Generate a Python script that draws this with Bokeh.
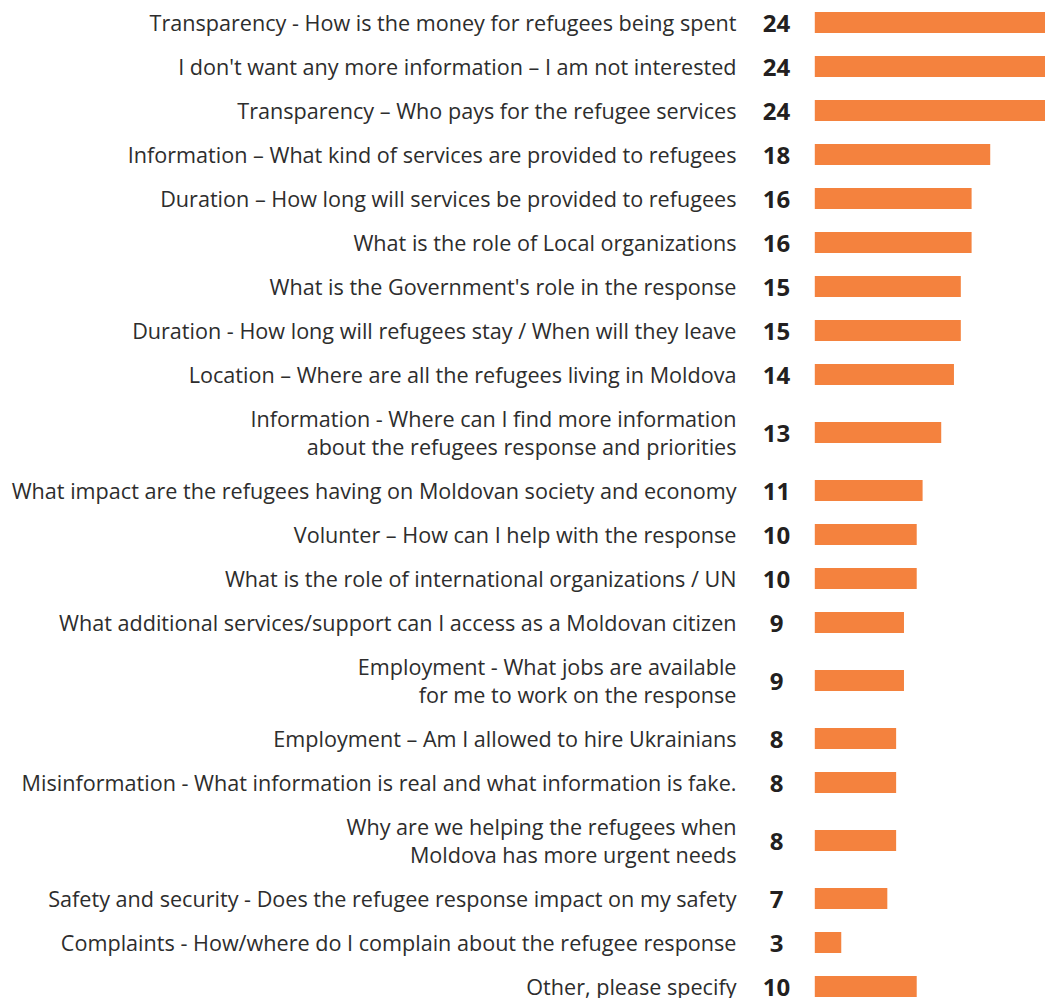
from bokeh.plotting import figure
from bokeh.models import ColumnDataSource, Range1d
from bokeh.core.properties import value
from bokeh.embed import file_html
from bokeh.resources import INLINE

# ---- data ----
questions = [
    "Transparency - How is the money for refugees being spent",
    "I don't want any more information \u2013 I am not interested",
    "Transparency \u2013 Who pays for the refugee services",
    "Information \u2013 What kind of services are provided to refugees",
    "Duration \u2013 How long will services be provided to refugees",
    "What is the role of Local organizations",
    "What is the Government's role in the response",
    "Duration - How long will refugees stay / When will they leave",
    "Location \u2013 Where are all the refugees living in Moldova",
    "Information - Where can I find more information\nabout the refugees response and priorities",
    "What impact are the refugees having on Moldovan society and economy",
    "Volunter \u2013 How can I help with the response",
    "What is the role of international organizations / UN",
    "What additional services/support can I access as a Moldovan citizen",
    "Employment - What jobs are available\nfor me to work on the response",
    "Employment \u2013 Am I allowed to hire Ukrainians",
    "Misinformation - What information is real and what information is fake.",
    "Why are we helping the refugees when\nMoldova has more urgent needs",
    "Safety and security - Does the refugee response impact on my safety",
    "Complaints - How/where do I complain about the refugee response",
    "Other, please specify",
]
shown_values = [24, 24, 24, 18, 16, 16, 15, 15, 14, 13, 11, 10, 10, 9, 9, 8, 8, 8, 7, 3, 10]
bar_values = [24.0, 24.0, 24.0, 17.9, 16.0, 16.0, 14.9, 14.9, 14.2, 12.9, 11.0,
              10.4, 10.4, 9.1, 9.1, 8.3, 8.3, 8.3, 7.4, 2.7, 10.4]

# ---- layout (pixels) ----
W, H = 1045, 998
BAR_X0 = 814.3          # pixel where bars start
PX_PER_UNIT = 9.8
ROW_SINGLE, ROW_EXTRA = 44, 28
LABEL_RIGHT = 736
VALUE_CENTER = 776

# row centres from label line counts
centers = []
pos = 0
for q in questions:
    h = ROW_SINGLE + ROW_EXTRA * (q.count("\n"))
    centers.append(pos + h / 2)
    pos += h

source = ColumnDataSource(dict(
    y=centers,
    bar=bar_values,
    label=questions,
    val=[str(v) for v in shown_values],
))

x_start = -BAR_X0 / PX_PER_UNIT
x_end = (W - BAR_X0) / PX_PER_UNIT

p = figure(width=W, height=H, output_backend="svg", toolbar_location=None,
           x_range=Range1d(x_start, x_end), y_range=Range1d(H, 0),
           min_border=0, border_fill_color="white", background_fill_color="white")
p.axis.visible = False
p.grid.visible = False
p.outline_line_color = None

p.hbar(y="y", left=0, right="bar", height=21, source=source,
       fill_color="#F4823E", line_color=None)

p.text(x=0, y="y", text="label", source=source, x_offset=LABEL_RIGHT - BAR_X0,
       text_align="right", text_baseline="middle",
       text_font=value("Open Sans"), text_font_size="21.6px",
       text_color="#2d2d2d", text_line_height=0.99)

p.text(x=0, y="y", text="val", source=source, x_offset=VALUE_CENTER - BAR_X0,
       y_offset=1,
       text_align="center", text_baseline="middle",
       text_font=value("Open Sans"), text_font_style="bold", text_font_size="24px",
       text_color="#231f20")

open("out.html", "w").write(file_html(p, INLINE))
